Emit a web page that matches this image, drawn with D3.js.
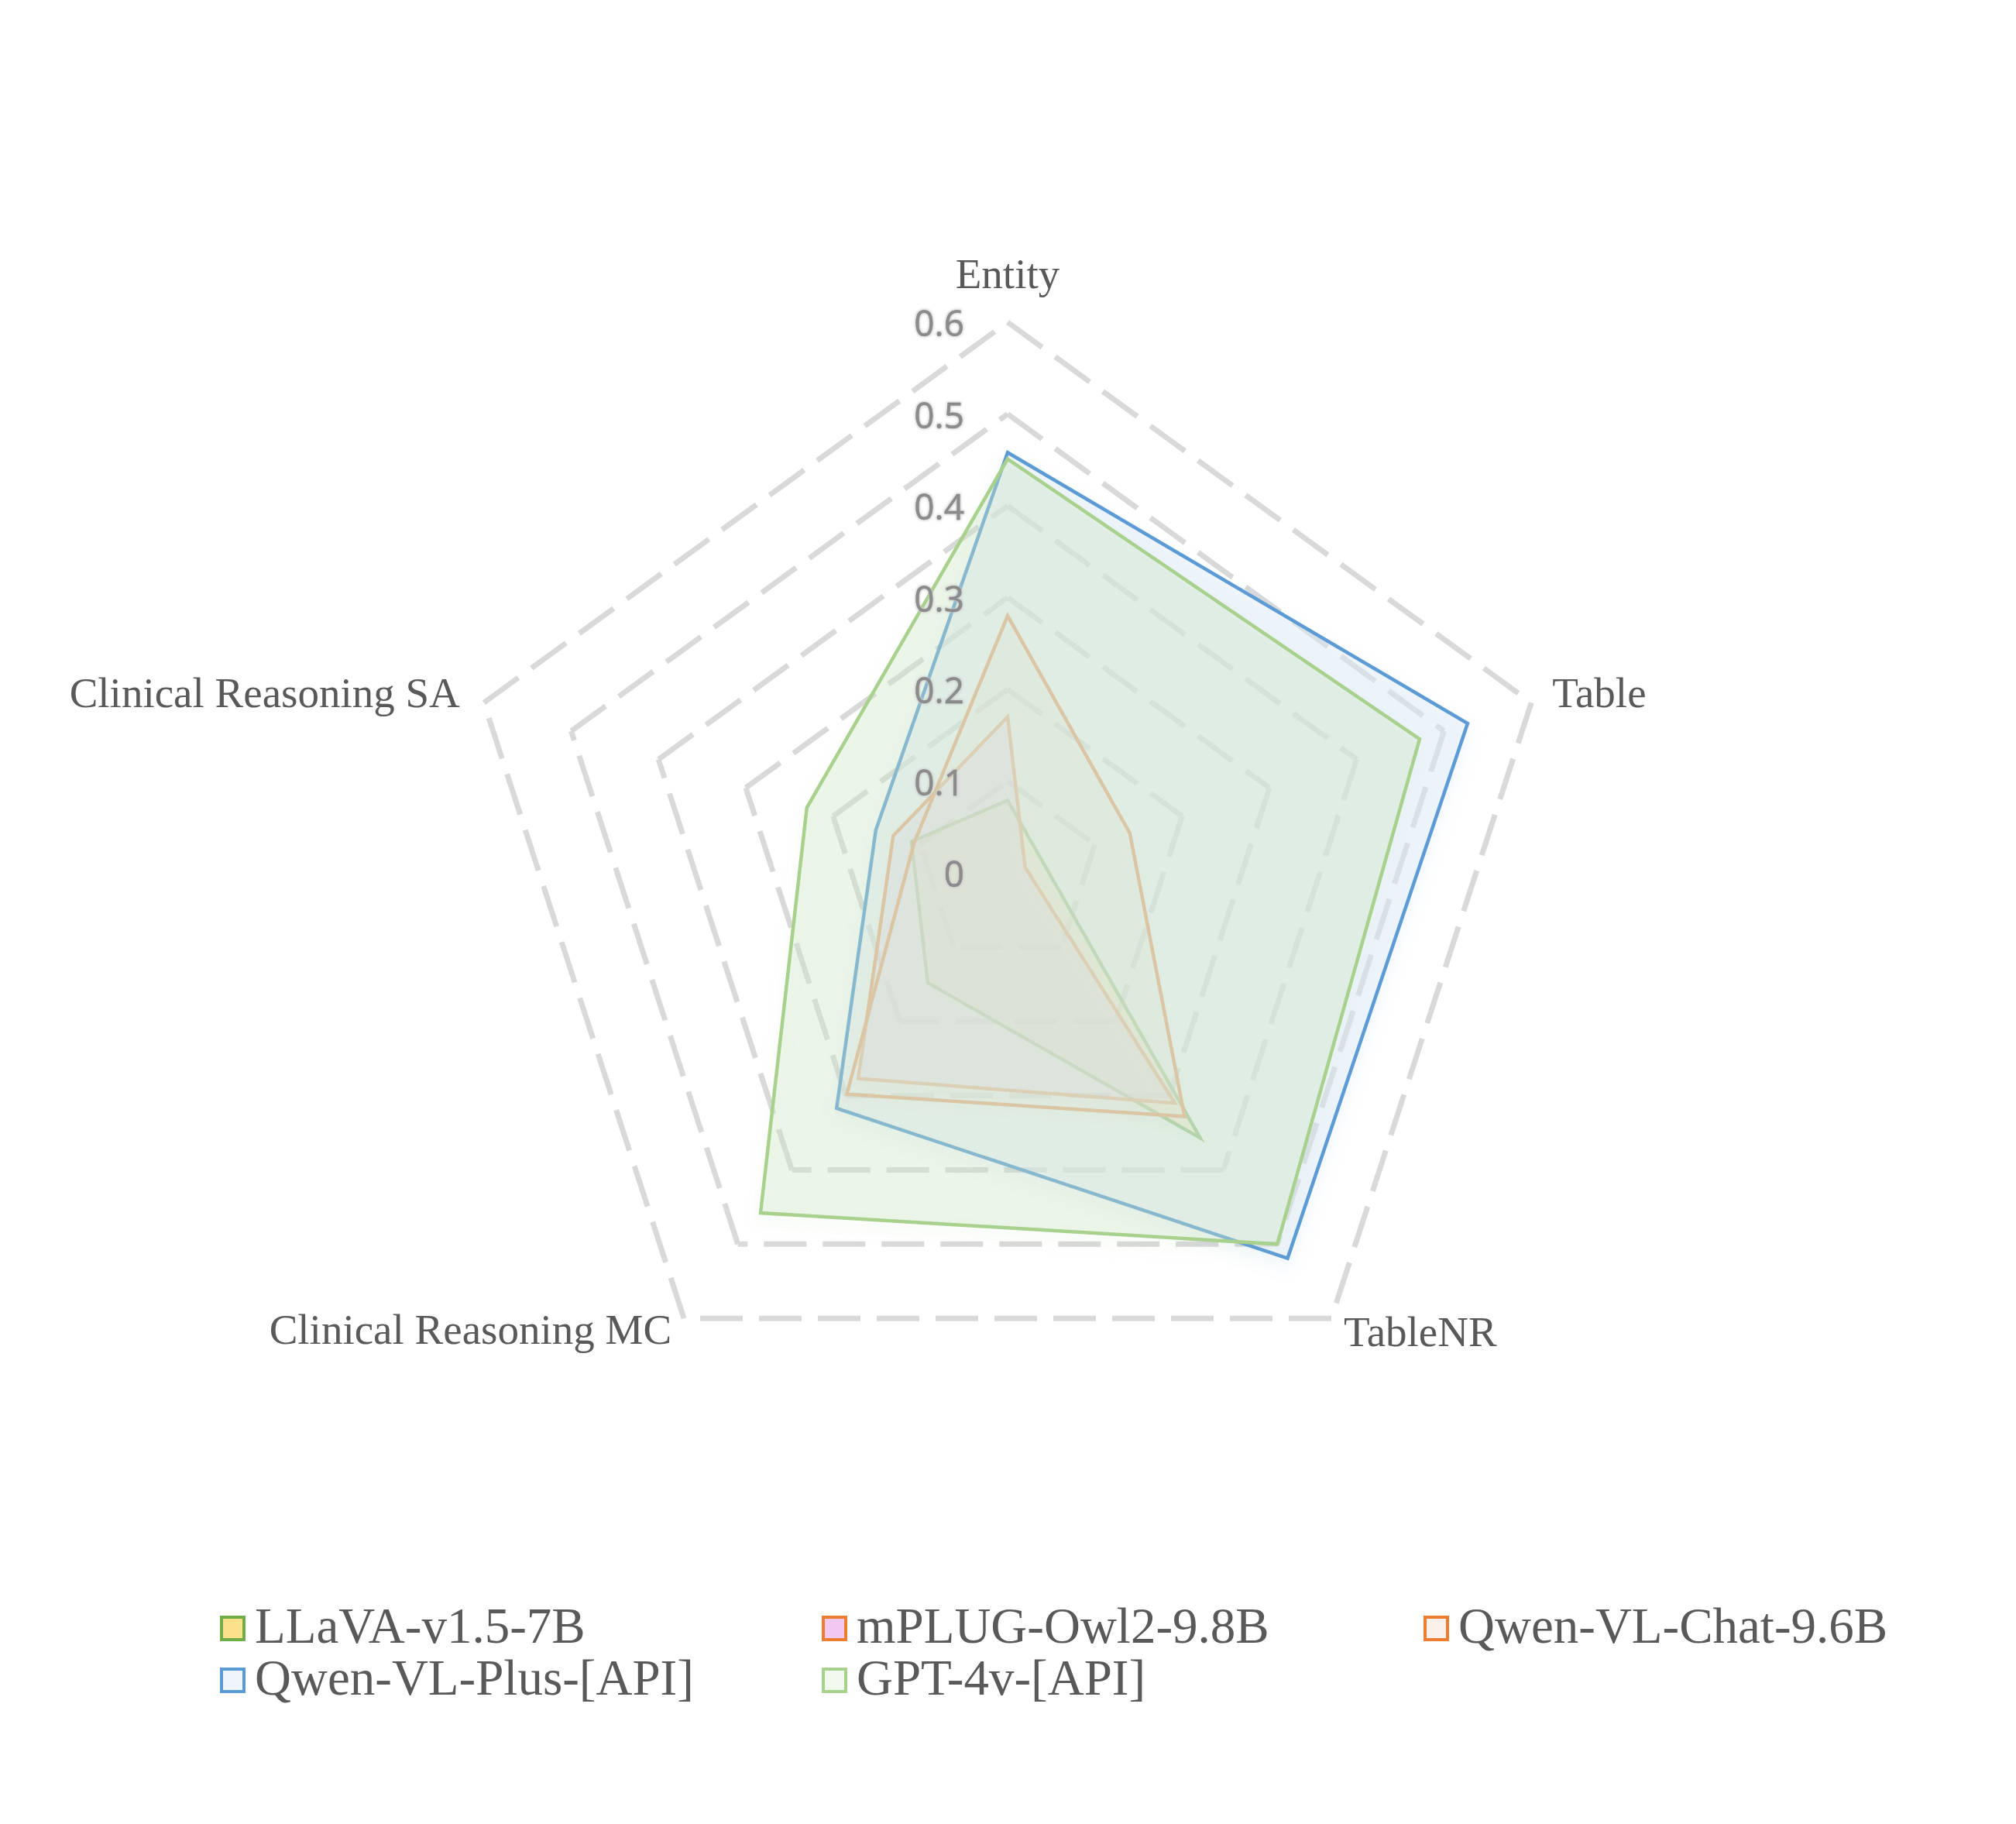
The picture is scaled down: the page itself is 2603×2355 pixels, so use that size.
<!DOCTYPE html>
<html>
<head>
<meta charset="utf-8">
<script src="https://cdn.jsdelivr.net/npm/d3@7"></script>
<style>
  html, body { margin: 0; padding: 0; background: #ffffff; }
  svg { display: block; }
</style>
</head>
<body>
<div id="chart"></div>
<script>
// ---------------- DATA ----------------
const axes = ["Entity", "Table", "TableNR", "Clinical Reasoning MC", "Clinical Reasoning SA"];
const seriesNames = ["LLaVA-v1.5-7B", "mPLUG-Owl2-9.8B", "Qwen-VL-Chat-9.6B", "Qwen-VL-Plus-[API]", "GPT-4v-[API]"];
const llavaValues   = [0.079, 0.040, 0.357, 0.148, 0.110];
const mplugValues   = [0.170, 0.020, 0.310, 0.277, 0.131];
const qwenChatValues= [0.280, 0.140, 0.328, 0.298, 0.107];
const qwenPlusValues= [0.458, 0.527, 0.519, 0.317, 0.151];
const gpt4vValues   = [0.451, 0.472, 0.500, 0.458, 0.230];
const tickValues = [0, 0.1, 0.2, 0.3, 0.4, 0.5, 0.6];
const tickLabels = ["0", "0.1", "0.2", "0.3", "0.4", "0.5", "0.6"];

// ---------------- STYLES ----------------
const styles = [
  { line: "#70ad47", lineOp: 1, fill: "rgb(255,217,102)", fillOp: 0.30, legendFill: "#fde08a", legendStroke: "#70ad47" },
  { line: "#ed7d31", lineOp: 1, fill: "rgb(235,185,232)", fillOp: 0.32, legendFill: "#f3c8ef", legendStroke: "#ed7d31" },
  { line: "#ed7d31", lineOp: 1, fill: "rgb(248,228,216)", fillOp: 0.30, legendFill: "#fcf0ea", legendStroke: "#ed7d31" },
  { line: "#5b9bd5", lineOp: 1, fill: "rgb(222,235,247)", fillOp: 0.46, legendFill: "#eef5fb", legendStroke: "#5b9bd5" },
  { line: "#a9d18e", lineOp: 1, fill: "rgb(208,229,200)", fillOp: 0.36, legendFill: "#f1f8ed", legendStroke: "#a9d18e" }
];
const allValues = [llavaValues, mplugValues, qwenChatValues, qwenPlusValues, gpt4vValues];

const W = 2603, H = 2355;
const cx = 1301, cy = 1127, R = 711;

const svg = d3.select("#chart").append("svg")
  .attr("width", W).attr("height", H)
  .attr("viewBox", `0 0 ${W} ${H}`);
svg.append("rect").attr("width", W).attr("height", H).attr("fill", "#ffffff");

const defs = svg.append("defs");
styles.forEach((s, i) => {
  const f = defs.append("filter").attr("id", "shadow" + i)
    .attr("x", "-20%").attr("y", "-20%").attr("width", "140%").attr("height", "140%");
  f.append("feDropShadow").attr("dx", 0).attr("dy", 10).attr("stdDeviation", 10)
    .attr("flood-color", s.line).attr("flood-opacity", 0.14);
});
const glow = defs.append("filter").attr("id", "glow")
  .attr("x", "-20%").attr("y", "-20%").attr("width", "140%").attr("height", "140%");
glow.append("feMorphology").attr("in", "SourceAlpha").attr("operator", "dilate").attr("radius", 1).attr("result", "d");
glow.append("feGaussianBlur").attr("in", "d").attr("stdDeviation", 1.5).attr("result", "b");
glow.append("feFlood").attr("flood-color", "#c4c4c4").attr("flood-opacity", 0.8);
glow.append("feComposite").attr("in2", "b").attr("operator", "in").attr("result", "g");
const gm = glow.append("feMerge");
gm.append("feMergeNode").attr("in", "g");
gm.append("feMergeNode").attr("in", "SourceGraphic");

const rScale = d3.scaleLinear().domain([0, 0.6]).range([0, R]);
const angle = i => i * 2 * Math.PI / axes.length;
const pt = (i, v) => [cx + rScale(v) * Math.sin(angle(i)), cy - rScale(v) * Math.cos(angle(i))];

const g = svg.append("g");

// grid rings (each edge separately so dashes start at vertices)
const gridG = g.append("g");
tickValues.slice(1).forEach(t => {
  axes.forEach((a, i) => {
    const p0 = pt(i, t), p1 = pt((i + 1) % axes.length, t);
    gridG.append("line")
      .attr("x1", p0[0]).attr("y1", p0[1]).attr("x2", p1[0]).attr("y2", p1[1])
      .attr("stroke", "#d9d9d9").attr("stroke-width", 7)
      .attr("stroke-dasharray", "55 21").attr("stroke-linecap", "butt");
  });
});

// series polygons
const lineGen = d3.line().curve(d3.curveLinearClosed);
allValues.forEach((vals, si) => {
  const s = styles[si];
  const pts = vals.map((v, i) => pt(i, v));
  g.append("path")
    .attr("d", lineGen(pts))
    .attr("fill", s.fill).attr("fill-opacity", s.fillOp)
    .attr("stroke", s.line).attr("stroke-opacity", s.lineOp)
    .attr("stroke-width", 4.5).attr("stroke-linejoin", "miter")
    .attr("filter", `url(#shadow${si})`);
});

// tick labels
tickValues.forEach((t, k) => {
  const p = pt(0, t);
  g.append("text")
    .attr("x", cx - 56).attr("y", p[1])
    .attr("text-anchor", "end").attr("dominant-baseline", "central")
    .attr("font-family", "'Open Sans', 'Liberation Sans', sans-serif")
    .attr("font-size", 46)
    .attr("fill", "#8c8c8c")
    .attr("stroke", "#7a7a7a").attr("stroke-width", 0.4)
    .attr("filter", "url(#glow)")
    .text(tickLabels[k]);
});

// axis labels
const labelFont = "'Liberation Serif', 'Times New Roman', serif";
const labelPos = [
  { dx: 0, dy: -44, anchor: "middle" },
  { dx: 27, dy: 6, anchor: "start" },
  { dx: 16, dy: 36, anchor: "start" },
  { dx: -16, dy: 33, anchor: "end" },
  { dx: -31, dy: 6, anchor: "end" }
];
axes.forEach((a, i) => {
  const p = pt(i, 0.6);
  g.append("text")
    .attr("x", p[0] + labelPos[i].dx).attr("y", p[1] + labelPos[i].dy)
    .attr("text-anchor", labelPos[i].anchor)
    .attr("font-family", labelFont).attr("font-size", 55)
    .attr("fill", "#595959")
    .text(a);
});

// legend
const legCols = [284, 1061, 1838];
const legRows = [2121, 2188];
seriesNames.forEach((name, i) => {
  const col = i % 3, row = Math.floor(i / 3);
  const x = legCols[col], y = legRows[row];
  const s = styles[i];
  svg.append("rect")
    .attr("x", x + 2).attr("y", y - 33).attr("width", 29).attr("height", 29)
    .attr("fill", s.legendFill).attr("stroke", s.legendStroke).attr("stroke-width", 4);
  svg.append("text")
    .attr("x", x + 45).attr("y", y)
    .attr("font-family", labelFont).attr("font-size", 65)
    .attr("fill", "#595959")
    .text(name);
});
</script>
</body>
</html>
